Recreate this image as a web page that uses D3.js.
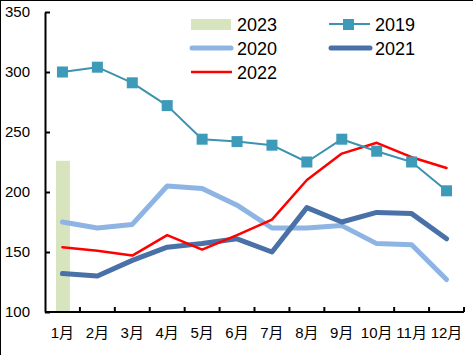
<!DOCTYPE html>
<html><head><meta charset="utf-8">
<script src="https://cdn.jsdelivr.net/npm/d3@7"></script>
<style>body{margin:0;background:#fff}svg{display:block}text{font-family:"Liberation Sans",Arial,"Noto Sans CJK SC",sans-serif}</style>
</head><body><svg id="c" width="473" height="355"></svg>
<script>
const months = ["1月","2月","3月","4月","5月","6月","7月","8月","9月","10月","11月","12月"];
const yTicks = [100,150,200,250,300,350];
const s2023 = [226];
const s2019 = [300,304,291,272,244,242,239,225,244,234,225,201];
const s2020 = [175,170,173,205,203,189,170,170,172,157,156,127];
const s2021 = [132,130,143,154,157,161,150,187,175,183,182,161];
const s2022 = [154,151,147,164,152,164,177,210,232,241,229,220];

const svg = d3.select("#c");
const L=45, R=464, T=12, B=312;
const x = d3.scaleBand().domain(months).range([L,R]);
const y = d3.scaleLinear().domain([100,350]).range([B,T]);
const cx = m => x(m)+x.bandwidth()/2;

// border
svg.append("line").attr("x1",0).attr("x2",473).attr("y1",0.5).attr("y2",0.5).attr("stroke","#000");
svg.append("line").attr("x1",0.5).attr("x2",0.5).attr("y1",0).attr("y2",355).attr("stroke","#000");

// bar 2023
const bw = 14;
svg.selectAll(".bar").data(s2023).enter().append("rect")
  .attr("x",(d,i)=>cx(months[i])-bw/2+0.5).attr("width",bw)
  .attr("y",d=>y(d)).attr("height",d=>B-y(d)).attr("fill","#D7E4BD");

const line = d3.line().x((d,i)=>cx(months[i])).y(d=>y(d));
function drawLine(data,color,w){
  svg.append("path").datum(data).attr("d",line).attr("fill","none")
    .attr("stroke",color).attr("stroke-width",w).attr("stroke-linejoin","round").attr("stroke-linecap","round");
}
drawLine(s2020,"#8EB4E3",5);
drawLine(s2021,"#4A70A8",5);
drawLine(s2022,"#FF0000",2.5);
drawLine(s2019,"#3D92AF",2);
svg.selectAll(".m19").data(s2019).enter().append("rect")
  .attr("x",(d,i)=>cx(months[i])-5.5).attr("y",d=>y(d)-5.5)
  .attr("width",11).attr("height",11).attr("fill","#3D9AB8");

// axes
const yAxis = d3.axisLeft(y).tickValues(yTicks).tickSizeInner(-5).tickSizeOuter(0).tickPadding(15);
const gy = svg.append("g").attr("transform",`translate(${L},0)`).call(yAxis);
gy.select(".domain").attr("stroke","#000").attr("stroke-width",2);
gy.selectAll(".tick line").attr("stroke","#000").attr("stroke-width",2);
gy.selectAll("text").attr("font-size",15).attr("fill","#000").attr("x",-15);

const ticksX = d3.range(13).map(i=>L+i*x.step());
const gx = svg.append("g");
gx.append("line").attr("x1",L).attr("x2",R).attr("y1",B).attr("y2",B).attr("stroke","#000").attr("stroke-width",2);
gx.selectAll(".tk").data(ticksX.slice(1)).enter().append("line")
  .attr("x1",d=>d).attr("x2",d=>d).attr("y1",B).attr("y2",B-5).attr("stroke","#000").attr("stroke-width",2);
gx.selectAll(".lb").data(months).enter().append("text")
  .attr("x",d=>cx(d)).attr("y",338).attr("text-anchor","middle").attr("font-size",15).text(d=>d);

// legend
const lg = svg.append("g");
const fs = 18;
lg.append("rect").attr("x",191).attr("y",19).attr("width",40).attr("height",11).attr("fill","#D7E4BD");
lg.append("text").attr("x",237).attr("y",31).attr("font-size",fs).text("2023");
lg.append("line").attr("x1",329).attr("x2",370).attr("y1",24).attr("y2",24).attr("stroke","#3D92AF").attr("stroke-width",2);
lg.append("rect").attr("x",343).attr("y",19).attr("width",11).attr("height",11).attr("fill","#3D9AB8");
lg.append("text").attr("x",375).attr("y",31).attr("font-size",fs).text("2019");
lg.append("line").attr("x1",192).attr("x2",231).attr("y1",48).attr("y2",48).attr("stroke","#8EB4E3").attr("stroke-width",5).attr("stroke-linecap","round");
lg.append("text").attr("x",237).attr("y",55).attr("font-size",fs).text("2020");
lg.append("line").attr("x1",331).attr("x2",370).attr("y1",48).attr("y2",48).attr("stroke","#4A70A8").attr("stroke-width",5).attr("stroke-linecap","round");
lg.append("text").attr("x",375).attr("y",55).attr("font-size",fs).text("2021");
lg.append("line").attr("x1",191).attr("x2",232).attr("y1",72).attr("y2",72).attr("stroke","#FF0000").attr("stroke-width",2.5);
lg.append("text").attr("x",237).attr("y",79).attr("font-size",fs).text("2022");
</script></body></html>
